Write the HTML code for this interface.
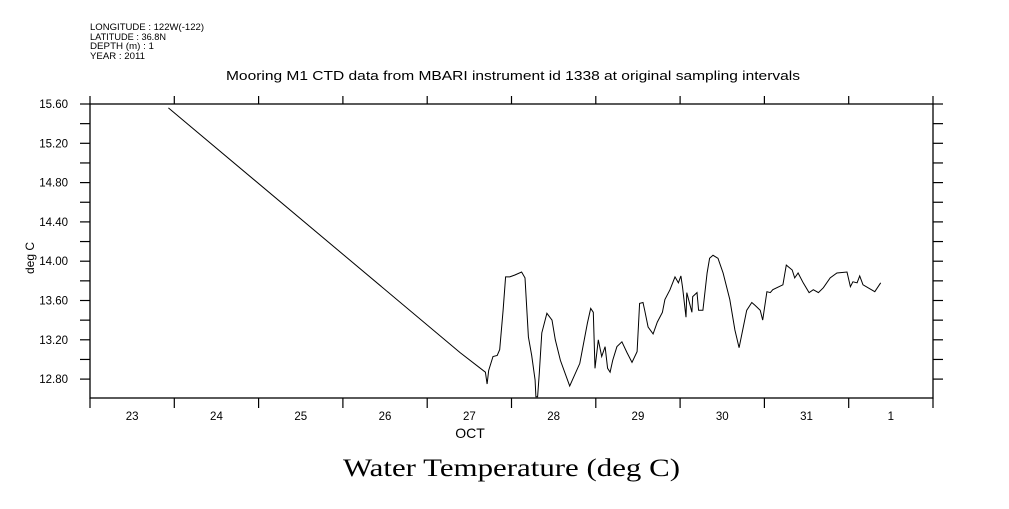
<!DOCTYPE html>
<html><head><meta charset="utf-8"><style>
body{margin:0;background:#fff;}
svg text{font-family:"Liberation Sans",sans-serif;fill:#000;}
</style></head><body>
<svg id="chart" width="1009" height="504" xmlns="http://www.w3.org/2000/svg">
<g font-size="9">
<text x="90" y="30" textLength="114" lengthAdjust="spacingAndGlyphs">LONGITUDE : 122W(-122)</text>
<text x="90" y="40" textLength="76" lengthAdjust="spacingAndGlyphs">LATITUDE : 36.8N</text>
<text x="90" y="49" textLength="64" lengthAdjust="spacingAndGlyphs">DEPTH (m) : 1</text>
<text x="90" y="59" textLength="55" lengthAdjust="spacingAndGlyphs">YEAR : 2011</text>
</g>
<text x="226" y="80" font-size="13" textLength="574" lengthAdjust="spacingAndGlyphs">Mooring M1 CTD data from MBARI instrument id 1338 at original sampling intervals</text>
<text x="0" y="0" font-size="12" text-anchor="middle" transform="translate(34,258) rotate(-90)">deg C</text>
<text x="470" y="438" font-size="14" text-anchor="middle">OCT</text>
<text x="343" y="476" font-size="25" textLength="337" lengthAdjust="spacingAndGlyphs" style="font-family:'Liberation Serif',serif">Water Temperature (deg C)</text>
<rect x="90" y="104" width="843" height="294" fill="none" stroke="#000" stroke-width="1.3"/>
<g id="axes"></g>
<path id="series" fill="none" stroke="#000" stroke-width="1"/>
</svg>
<script>
const days=[23.93,27.39,27.69,27.71,27.73,27.78,27.83,27.86,27.90,27.93,27.98,28.04,28.12,28.16,28.20,28.24,28.28,28.29,28.31,28.33,28.36,28.42,28.48,28.52,28.58,28.69,28.81,28.90,28.94,28.97,28.99,29.03,29.07,29.11,29.14,29.17,29.20,29.25,29.31,29.37,29.43,29.49,29.52,29.56,29.58,29.62,29.68,29.73,29.79,29.82,29.88,29.94,29.98,30.01,30.03,30.07,30.08,30.14,30.15,30.20,30.22,30.27,30.32,30.35,30.39,30.45,30.51,30.59,30.65,30.70,30.75,30.79,30.85,30.89,30.95,30.98,31.03,31.07,31.10,31.22,31.26,31.33,31.36,31.40,31.46,31.53,31.58,31.64,31.70,31.78,31.86,31.98,32.02,32.05,32.10,32.13,32.17,32.31,32.38];
const temps=[15.56,13.07,12.87,12.75,12.89,13.03,13.04,13.10,13.50,13.84,13.84,13.86,13.89,13.83,13.23,13.04,12.79,12.62,12.62,12.86,13.27,13.47,13.40,13.20,12.99,12.73,12.96,13.37,13.52,13.48,12.91,13.20,13.03,13.13,12.91,12.87,12.99,13.13,13.18,13.07,12.97,13.08,13.57,13.58,13.50,13.33,13.26,13.38,13.48,13.61,13.71,13.84,13.78,13.85,13.73,13.43,13.68,13.48,13.64,13.68,13.50,13.50,13.88,14.03,14.06,14.03,13.88,13.61,13.30,13.12,13.33,13.50,13.58,13.55,13.50,13.40,13.69,13.68,13.71,13.76,13.96,13.91,13.83,13.88,13.78,13.68,13.71,13.68,13.73,13.83,13.88,13.89,13.74,13.79,13.78,13.85,13.76,13.69,13.78];
const yTicks=[12.8,13.2,13.6,14.0,14.4,14.8,15.2,15.6];
const xLabels=["23","24","25","26","27","28","29","30","31","1"];
const X0=90,X1=933,Y0=104,Y1=398,DMIN=23,DMAX=33,TMAX=15.6,PXPER=98.25;
const sx=d=>X0+(d-DMIN)*(X1-X0)/(DMAX-DMIN);
const sy=t=>Y0+(TMAX-t)*PXPER;
const NS="http://www.w3.org/2000/svg";
const axes=document.getElementById('axes');
function line(x1,y1,x2,y2,name){const l=document.createElementNS(NS,'line');
l.setAttribute('x1',x1);l.setAttribute('y1',y1);l.setAttribute('x2',x2);l.setAttribute('y2',y2);l.setAttribute('stroke','#000');l.setAttribute('stroke-width','1.2');


axes.appendChild(l);}
function txt(x,y,s,anchor,name){const t=document.createElementNS(NS,'text');
t.setAttribute('x',x);t.setAttribute('y',y);t.setAttribute('font-size','11.5');t.setAttribute('text-anchor',anchor);t.textContent=s;


axes.appendChild(t);}
for(let i=0;i<yTicks.length;i++){const y=sy(yTicks[i]);
line(X0-10,y,X0,y,'y-tick');line(X1,y,X1+10,y,'y-tick-right');
txt(X0-22,y+4,yTicks[i].toFixed(2),'end','y-tick-label');
if(i<yTicks.length-1){const ym=sy(yTicks[i]+0.2);line(X0-10,ym,X0,ym,'y-minor-tick');line(X1,ym,X1+10,ym,'y-minor-tick-right');}}
for(let d=DMIN;d<=DMAX;d++){const x=sx(d);line(x,Y1,x,Y1+10,'x-tick');line(x,Y0-8,x,Y0,'x-tick-top');}
for(let i=0;i<xLabels.length;i++){txt(sx(DMIN+i+0.5),420,xLabels[i],'middle','x-tick-label');}
let dstr='';
for(let i=0;i<days.length;i++){dstr+=(i?'L':'M')+sx(days[i]).toFixed(1)+' '+sy(temps[i]).toFixed(1);}
document.getElementById('series').setAttribute('d',dstr);
</script>
</body></html>
